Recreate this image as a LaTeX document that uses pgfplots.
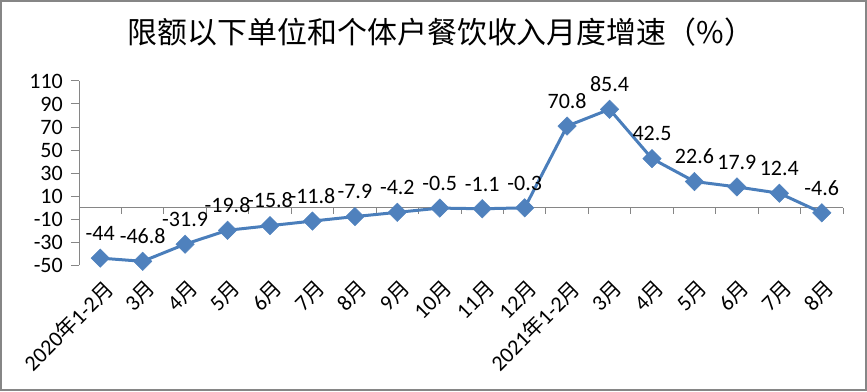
\documentclass[border=0pt]{standalone}
\usepackage{pgfplots}
\pgfplotsset{compat=1.18}
\usepackage{fontspec}
\setmainfont{Carlito}
\newfontfamily\cjk{Noto Sans CJK SC}[Scale=0.95]
\definecolor{lineblue}{HTML}{4A7EBB}
\definecolor{markblue}{HTML}{4F81BD}
\definecolor{axgray}{HTML}{868686}
\pgfplotstableread{
x y label
0 -44 -44
1 -46.8 -46.8
2 -31.9 -31.9
3 -19.8 -19.8
4 -15.8 -15.8
5 -11.8 -11.8
6 -7.9 -7.9
7 -4.2 -4.2
8 -0.5 -0.5
9 -1.1 -1.1
10 -0.3 -0.3
11 70.8 70.8
12 85.4 85.4
13 42.5 42.5
14 22.6 22.6
15 17.9 17.9
16 12.4 12.4
17 -4.6 -4.6
}\datatable
\begin{document}
\begin{tikzpicture}[x=1pt,y=1pt]
\useasboundingbox (0,0) rectangle (867,391);
\begin{axis}[
 at={(79pt,126pt)}, anchor=south west,
 scale only axis, width=764pt, height=184pt,
 xmin=-0.5, xmax=17.5, ymin=-50, ymax=110,
 axis y line*=left, axis x line*=bottom, x axis line style={draw=none},
 y axis line style={axgray, line width=1pt},
 ytick={-50,-30,...,110},
 yticklabels={-50,-30,-10,10,30,50,70,90,110},
 ytick style={axgray,line width=1pt},
 major tick length=8pt, tick align=outside,
 xtick={0,...,17},
 xtick style={draw=none},
 xticklabels={2020{\cjk 年}1-2{\cjk 月},3{\cjk 月},4{\cjk 月},5{\cjk 月},6{\cjk 月},7{\cjk 月},8{\cjk 月},9{\cjk 月},10{\cjk 月},11{\cjk 月},12{\cjk 月},2021{\cjk 年}1-2{\cjk 月},3{\cjk 月},4{\cjk 月},5{\cjk 月},6{\cjk 月},7{\cjk 月},8{\cjk 月}},
 xticklabel style={rotate=45, anchor=north east, font=\fontsize{22}{22}\selectfont, inner sep=2pt, yshift=-3pt},
 yticklabel style={font=\fontsize{22}{22}\selectfont, inner sep=2pt, xshift=-6pt},
 clip=false,
 nodes near coords, point meta=explicit symbolic,
 nodes near coords style={font=\fontsize{22}{22}\selectfont, anchor=south, yshift=14pt, black},
]
\draw[axgray,line width=1pt] (axis cs:-0.5,0) -- (axis cs:17.5,0);
\pgfplotsinvokeforeach{0.5,1.5,...,17.5}{\draw[axgray,line width=1pt] (axis cs:#1,0) -- (axis cs:#1,-5.5);}
\addplot[lineblue, line width=3pt, mark=square*, mark size=6.5pt,
  mark options={rotate=45, fill=markblue, draw=markblue, line width=0.5pt}]
  table[x=x, y=y, meta=label] {\datatable};
\end{axis}
\draw[axgray,line width=2pt] (1,1) rectangle (866,390);
\node[font=\cjk\fontsize{31.5}{31.5}\selectfont] at (441,359) {限额以下单位和个体户餐饮收入月度增速（\%）};
\end{tikzpicture}
\end{document}
